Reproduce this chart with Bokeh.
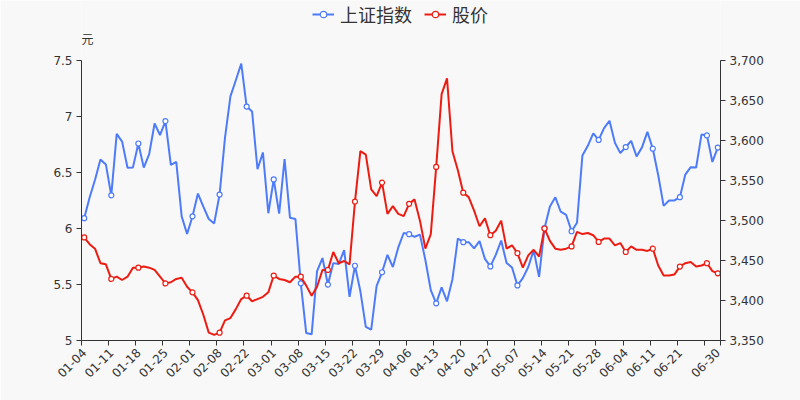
from bokeh.plotting import figure
from bokeh.models import (Range1d, LinearAxis, FixedTicker, NumeralTickFormatter,
                          CustomJSTickFormatter, Legend, LegendItem, Label, ColumnDataSource)
from bokeh.embed import file_html
from bokeh.resources import INLINE
from math import pi

dates = ["01-04","01-05","01-06","01-07","01-08","01-11","01-12","01-13","01-14","01-15",
         "01-18","01-19","01-20","01-21","01-22","01-25","01-26","01-27","01-28","01-29",
         "02-01","02-02","02-03","02-04","02-05","02-08","02-09","02-10","02-18","02-19",
         "02-22","02-23","02-24","02-25","02-26","03-01","03-02","03-03","03-04","03-05",
         "03-08","03-09","03-10","03-11","03-12","03-15","03-16","03-17","03-18","03-19",
         "03-22","03-23","03-24","03-25","03-26","03-29","03-30","03-31","04-01","04-02",
         "04-06","04-07","04-08","04-09","04-12","04-13","04-14","04-15","04-16","04-19",
         "04-20","04-21","04-22","04-23","04-26","04-27","04-28","04-29","04-30","05-06",
         "05-07","05-10","05-11","05-12","05-13","05-14","05-17","05-18","05-19","05-20",
         "05-21","05-24","05-25","05-26","05-27","05-28","05-31","06-01","06-02","06-03",
         "06-04","06-07","06-08","06-09","06-10","06-11","06-15","06-16","06-17","06-18",
         "06-21","06-22","06-23","06-24","06-25","06-28","06-29","06-30"]

sse_index = [3502.96,3528.68,3550.88,3576.20,3570.11,3531.50,3608.34,3598.65,3565.90,3566.38,
             3596.22,3566.12,3583.09,3621.26,3606.75,3624.24,3569.43,3573.34,3505.18,3483.07,
             3505.28,3533.68,3517.31,3501.86,3496.33,3532.44,3603.49,3655.09,3675.36,3696.17,
             3642.44,3636.36,3564.08,3585.05,3509.08,3551.40,3508.59,3576.90,3503.49,3501.99,
             3421.41,3359.29,3357.74,3436.83,3453.08,3419.95,3446.73,3445.55,3463.07,3404.66,
             3443.44,3411.51,3367.06,3363.59,3418.33,3435.30,3457.07,3441.91,3466.33,3484.39,
             3482.85,3479.63,3482.31,3450.68,3412.95,3396.47,3416.54,3398.99,3426.62,3477.55,
             3472.94,3472.93,3465.11,3474.17,3452.00,3442.61,3457.07,3474.90,3446.86,3441.28,
             3418.87,3427.99,3441.85,3462.75,3429.54,3490.38,3517.62,3529.01,3510.96,3506.94,
             3486.56,3497.28,3581.34,3593.36,3608.85,3600.78,3615.48,3624.71,3597.14,3584.22,
             3591.84,3599.54,3580.11,3591.40,3610.86,3589.75,3556.56,3518.33,3525.10,3525.10,
             3529.18,3557.41,3566.65,3566.22,3607.56,3606.37,3573.18,3591.20]

stock_price = [5.92,5.86,5.82,5.69,5.68,5.55,5.57,5.54,5.57,5.65,
               5.65,5.66,5.65,5.63,5.57,5.51,5.52,5.55,5.56,5.48,
               5.43,5.36,5.23,5.07,5.05,5.07,5.18,5.20,5.28,5.37,
               5.40,5.35,5.37,5.39,5.43,5.58,5.55,5.54,5.52,5.57,
               5.57,5.49,5.40,5.48,5.63,5.63,5.79,5.69,5.71,5.68,
               6.24,6.69,6.66,6.35,6.29,6.41,6.13,6.20,6.13,6.11,
               6.22,6.26,6.07,5.82,5.95,6.55,7.20,7.34,6.69,6.52,
               6.32,6.28,6.16,6.02,6.09,5.94,5.98,6.07,5.82,5.85,
               5.78,5.65,5.76,5.81,5.75,6.00,5.89,5.82,5.81,5.82,
               5.84,5.97,5.95,5.96,5.94,5.88,5.91,5.91,5.85,5.87,
               5.79,5.84,5.81,5.81,5.80,5.82,5.67,5.58,5.58,5.59,
               5.66,5.69,5.70,5.66,5.67,5.69,5.62,5.60]

left_ticks = [5, 5.5, 6, 6.5, 7, 7.5]
right_ticks = [3350, 3400, 3450, 3500, 3550, 3600, 3650, 3700]

BLUE = "#4d7bfa"
RED = "#ec1c12"
BG = "#f8f8f8"
AXC = "#333333"
FONT = "DejaVu Sans"

# layout: plot area spans canvas y 0..340; value axes occupy 60..340
FRAME_H = 340.0
AXIS_H = 280.0
left_lo, left_hi = left_ticks[0], left_ticks[-1]
right_lo, right_hi = right_ticks[0], right_ticks[-1]
left_top = left_lo + (left_hi - left_lo) * FRAME_H / AXIS_H
right_top = right_lo + (right_hi - right_lo) * FRAME_H / AXIS_H

n = len(dates)
xs = list(range(n))
src = ColumnDataSource(dict(x=xs, sse=sse_index, price=stock_price))
mark_idx = [i for i in xs if i % 5 == 0] + ([n - 1] if (n - 1) % 5 else [])
msrc = ColumnDataSource(dict(x=mark_idx, sse=[sse_index[i] for i in mark_idx],
                             price=[stock_price[i] for i in mark_idx]))
# placeholder source (NaN, never drawn) used only for the legend icons
nan_src = ColumnDataSource(dict(x=[float("nan")], y=[float("nan")]))

p = figure(width=800, height=400, output_backend="svg", toolbar_location=None,
           x_range=Range1d(-0.5, n - 0.5), y_range=Range1d(left_lo, left_top),
           min_border_left=81, min_border_right=80, min_border_top=0, min_border_bottom=60,
           background_fill_color=BG, border_fill_color=BG, x_axis_location=None, y_axis_location=None)
p.outline_line_color = None
p.xgrid.visible = False
p.ygrid.visible = False
p.extra_y_ranges = {"right": Range1d(right_lo, right_top)}

# x axis
label_idx = [i for i in xs if i % 5 == 0 and i <= n - 6] + [n - 1]
bound_ticks = [i - 0.5 for i in xs if i % 5 == 0] + [n - 0.5]
xaxis = LinearAxis(ticker=FixedTicker(ticks=label_idx, minor_ticks=bound_ticks),
                   formatter=CustomJSTickFormatter(args=dict(labels=dates),
                                                   code="return labels[Math.round(tick)] || '';"))
xaxis.major_label_orientation = pi / 4
xaxis.major_tick_line_color = None
xaxis.minor_tick_line_color = AXC
xaxis.minor_tick_in = 0
xaxis.minor_tick_out = 5
xaxis.axis_line_color = AXC
xaxis.major_label_text_font = FONT
xaxis.major_label_text_font_size = "12px"
xaxis.major_label_text_color = AXC
xaxis.major_label_standoff = 4
p.add_layout(xaxis, "below")

laxis = LinearAxis(ticker=FixedTicker(ticks=left_ticks, minor_ticks=[]),
                   formatter=NumeralTickFormatter(format="0.[0]"), bounds=(left_lo, left_hi))
raxis = LinearAxis(y_range_name="right", ticker=FixedTicker(ticks=right_ticks, minor_ticks=[]),
                   formatter=NumeralTickFormatter(format="0,0"), bounds=(right_lo, right_hi))
for ax in (laxis, raxis):
    ax.axis_line_color = AXC
    ax.major_tick_line_color = AXC
    ax.major_tick_in = 0
    ax.major_tick_out = 5
    ax.minor_tick_line_color = None
    ax.major_label_text_font = FONT
    ax.major_label_text_font_size = "12px"
    ax.major_label_text_color = AXC
    ax.major_label_standoff = 4
p.add_layout(laxis, "left")
p.add_layout(raxis, "right")

p.line("x", "sse", source=src, y_range_name="right", line_color=BLUE, line_width=2)
p.scatter("x", "sse", source=msrc, y_range_name="right", size=5,
          line_color=BLUE, fill_color="white", line_width=1.2)
p.line("x", "price", source=src, line_color=RED, line_width=2)
p.scatter("x", "price", source=msrc, size=5, line_color=RED, fill_color="white", line_width=1.2)

lg_sse_l = p.line("x", "y", source=nan_src, line_color=BLUE, line_width=2)
lg_sse_m = p.scatter("x", "y", source=nan_src, size=9, line_color=BLUE, fill_color="white", line_width=1.2)
lg_px_l = p.line("x", "y", source=nan_src, line_color=RED, line_width=2)
lg_px_m = p.scatter("x", "y", source=nan_src, size=9, line_color=RED, fill_color="white", line_width=1.2)

legend = Legend(items=[LegendItem(label="上证指数", renderers=[lg_sse_l, lg_sse_m]),
                       LegendItem(label="股价", renderers=[lg_px_l, lg_px_m])],
                orientation="horizontal", location=(231, 313),
                background_fill_alpha=0, border_line_color=None,
                label_text_font="Noto Sans CJK SC", label_text_font_size="18px",
                label_text_color=AXC, glyph_width=22, glyph_height=16,
                label_standoff=6, spacing=12, padding=0, margin=0)
p.add_layout(legend, "center")

p.add_layout(Label(x=0, y=FRAME_H - 38, x_units="screen", y_units="screen", text="元",
                   text_font="Noto Sans CJK SC", text_font_size="12px", text_color=AXC,
                   text_align="left", text_baseline="middle"))

open("out.html", "w").write(file_html(p, INLINE))
